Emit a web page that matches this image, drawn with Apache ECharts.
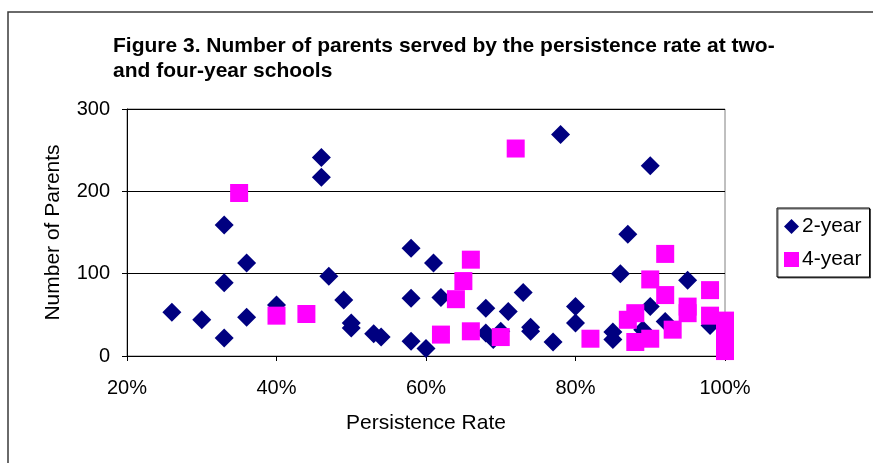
<!DOCTYPE html>
<html>
<head>
<meta charset="utf-8">
<script src="https://cdn.jsdelivr.net/npm/echarts@6/dist/echarts.min.js"></script>
<style>
  html, body { margin: 0; padding: 0; background: #fff; }
  #chart { width: 873px; height: 463px; }
</style>
</head>
<body>
<div id="chart"></div>
<script>
// Persistence rate (%) and number of parents served, two-year schools
const twoYearRate = [26, 30, 33, 33, 33, 36, 36, 40, 46, 46, 47, 49, 50, 50, 53, 54, 58, 58, 58, 60, 61, 62,
  68, 68, 69, 70, 71, 73, 74, 74, 77, 78, 80, 80, 85, 85, 86, 87, 89, 90, 90, 92, 95, 98];
const twoYearParents = [53, 44, 22, 89, 159, 113, 47, 62, 241, 217, 97, 68, 40, 34, 27, 23, 131, 70, 18, 9, 113, 71,
  58, 28, 20, 30, 54, 77, 35, 30, 17, 269, 60, 40, 29, 20, 100, 148, 32, 231, 60, 42, 92, 37];

// Persistence rate (%) and number of parents served, four-year schools
const fourYearRate = [35, 40, 44, 62, 64, 65, 66, 66, 70, 72, 82, 87, 88, 88, 90, 90, 92, 92, 93, 95, 95, 98, 98,
  100, 100, 100, 100];
const fourYearParents = [198, 49, 51, 26, 69, 91, 117, 30, 23, 252, 21, 44, 52, 17, 93, 21, 124, 74, 32, 60, 52, 80, 49,
  43, 30, 18, 6];

const seriesNames = ['2-year', '4-year'];
const titleLines = ['Figure 3. Number of parents served by the persistence rate at two-', 'and four-year schools'];
const xAxisTitle = 'Persistence Rate';
const yAxisTitle = 'Number of Parents';

const pairs = (xs, ys) => xs.map((x, i) => [x, ys[i]]);
const FONT = 'Liberation Sans, Arial, sans-serif';

const chart = echarts.init(document.getElementById('chart'));
chart.setOption({
  animation: false,
  backgroundColor: '#ffffff',
  textStyle: { fontFamily: FONT },
  graphic: [
    {
      type: 'polyline',
      shape: { points: [[8, 470], [8, 12], [880, 12]] },
      style: { stroke: '#3a3a3a', lineWidth: 1.5, fill: null },
      silent: true
    },
    {
      type: 'text',
      left: 113,
      top: 34,
      style: {
        text: titleLines.join('\n'),
        font: 'bold 21px ' + FONT,
        fill: '#000',
        lineHeight: 25
      }
    }
  ],
  legend: {
    orient: 'vertical',
    left: 777,
    top: 208,
    width: 94,
    padding: [8, 8, 7, 7],
    itemWidth: 15,
    itemHeight: 15,
    itemGap: 12,
    backgroundColor: '#fff',
    borderColor: '#000',
    borderWidth: 1,
    shadowColor: 'rgba(0,0,0,0.6)',
    shadowOffsetX: 1,
    shadowOffsetY: 1,
    textStyle: { fontSize: 21, color: '#000', fontFamily: FONT, lineHeight: 21, padding: [0, 0, 0, -2] },
    data: [
      { name: seriesNames[0], icon: 'diamond' },
      { name: seriesNames[1], icon: 'rect' }
    ]
  },
  grid: {
    left: 127,
    right: 148,
    top: 109,
    bottom: 107,
    show: true,
    borderColor: '#808080',
    borderWidth: 1
  },
  xAxis: {
    type: 'value',
    min: 20,
    max: 100,
    interval: 20,
    name: xAxisTitle,
    nameLocation: 'middle',
    nameGap: 57,
    nameTextStyle: { fontSize: 21, color: '#000', fontFamily: FONT },
    axisLine: { show: true, onZero: false, lineStyle: { color: '#000', width: 1 } },
    axisTick: { show: true, inside: false, length: 5, lineStyle: { color: '#000' } },
    axisLabel: { fontSize: 20, color: '#000', margin: 22, formatter: '{value}%' },
    splitLine: { show: false }
  },
  yAxis: {
    type: 'value',
    min: 0,
    max: 300,
    interval: 100,
    name: yAxisTitle,
    nameLocation: 'middle',
    nameGap: 63,
    nameTextStyle: { fontSize: 21, color: '#000', fontFamily: FONT },
    axisLine: { show: true, lineStyle: { color: '#000', width: 1 } },
    axisTick: { show: true, inside: false, length: 5, lineStyle: { color: '#000' } },
    axisLabel: { fontSize: 20, color: '#000', margin: 17 },
    splitLine: { show: true, lineStyle: { color: '#000', width: 1 } }
  },
  series: [
    {
      name: seriesNames[0],
      type: 'scatter',
      symbol: 'diamond',
      symbolSize: [19, 19],
      itemStyle: { color: '#000080', opacity: 1 },
      data: pairs(twoYearRate, twoYearParents),
      z: 2
    },
    {
      name: seriesNames[1],
      type: 'scatter',
      symbol: 'rect',
      symbolSize: [18, 18],
      itemStyle: { color: '#ff00ff', opacity: 1 },
      data: pairs(fourYearRate, fourYearParents),
      z: 3,
      clip: false
    }
  ]
});
</script>
</body>
</html>
